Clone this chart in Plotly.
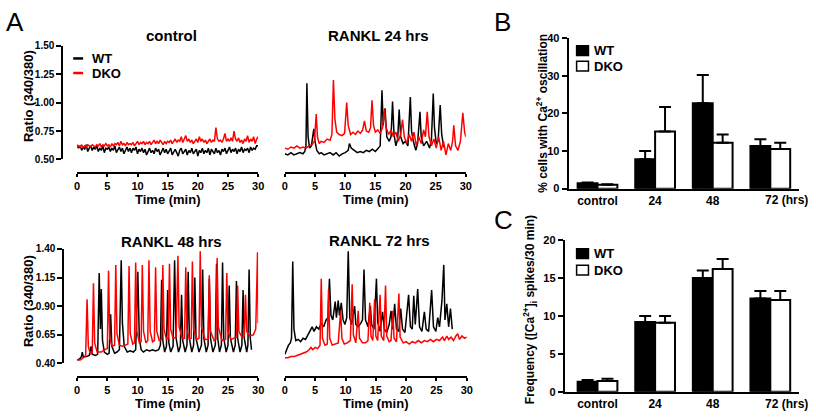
import plotly.graph_objects as go

# ---------------- DATA ----------------
# Panel A - control (sampled every 0.25 min)
ctrl_wt = [0.63, 0.60, 0.62, 0.58, 0.61, 0.59, 0.63, 0.57, 0.60, 0.62, 0.58, 0.61,
           0.59, 0.62, 0.57, 0.60, 0.58, 0.62, 0.56, 0.60, 0.59, 0.61, 0.57, 0.60,
           0.58, 0.62, 0.56, 0.59, 0.61, 0.57, 0.60, 0.55, 0.59, 0.61, 0.57, 0.60,
           0.56, 0.60, 0.58, 0.61, 0.55, 0.59, 0.57, 0.60, 0.56, 0.59, 0.54, 0.58,
           0.60, 0.56, 0.58, 0.55, 0.60, 0.57, 0.59, 0.54, 0.58, 0.60, 0.56, 0.59,
           0.55, 0.58, 0.60, 0.54, 0.57, 0.59, 0.56, 0.53, 0.58, 0.60, 0.55, 0.57,
           0.59, 0.54, 0.58, 0.56, 0.60, 0.55, 0.57, 0.59, 0.53, 0.58, 0.56, 0.60,
           0.55, 0.58, 0.56, 0.60, 0.54, 0.59, 0.57, 0.55, 0.60, 0.56, 0.58, 0.54,
           0.59, 0.57, 0.60, 0.55, 0.58, 0.61, 0.56, 0.59, 0.57, 0.60, 0.55, 0.59,
           0.57, 0.61, 0.56, 0.59, 0.58, 0.60, 0.56, 0.61, 0.58, 0.60, 0.59, 0.62,
           0.62]
ctrl_dko = [0.60, 0.62, 0.61, 0.63, 0.60, 0.62, 0.61, 0.63, 0.62, 0.61, 0.63, 0.62,
            0.61, 0.63, 0.62, 0.64, 0.61, 0.63, 0.62, 0.64, 0.62, 0.63, 0.61, 0.64,
            0.62, 0.64, 0.63, 0.65, 0.62, 0.66, 0.63, 0.64, 0.62, 0.65, 0.63, 0.64,
            0.63, 0.65, 0.62, 0.64, 0.66, 0.63, 0.65, 0.64, 0.66, 0.63, 0.65, 0.64,
            0.66, 0.63, 0.65, 0.67, 0.64, 0.66, 0.64, 0.67, 0.65, 0.63, 0.66, 0.64,
            0.66, 0.65, 0.67, 0.64, 0.66, 0.68, 0.65, 0.67, 0.66, 0.70, 0.65, 0.68,
            0.71, 0.66, 0.68, 0.65, 0.67, 0.64, 0.66, 0.68, 0.65, 0.70, 0.66, 0.68,
            0.65, 0.67, 0.64, 0.66, 0.68, 0.65, 0.67, 0.66, 0.78, 0.68, 0.66, 0.67,
            0.65, 0.68, 0.73, 0.66, 0.68, 0.66, 0.69, 0.66, 0.75, 0.68, 0.66, 0.69,
            0.65, 0.67, 0.64, 0.68, 0.66, 0.71, 0.65, 0.68, 0.66, 0.70, 0.64, 0.68,
            0.70]
ctrl_t = [i * 0.25 for i in range(len(ctrl_wt))]

# Panel A - RANKL 24 hrs (time min, ratio)
r24_wt_pts = [(0, 0.55), (0.5, 0.54), (1, 0.56), (1.5, 0.54), (2, 0.55), (2.5, 0.56), (3, 0.55),
              (3.3, 0.57), (3.5, 0.62), (3.65, 1.17), (3.85, 0.70), (4.1, 0.60), (4.4, 0.62),
              (4.8, 0.77), (5.0, 0.66), (5.3, 0.58), (5.7, 0.55), (6, 0.56), (6.5, 0.54), (7, 0.55),
              (7.5, 0.56), (8, 0.54), (8.5, 0.56), (9, 0.53), (9.5, 0.55), (10, 0.56), (10.5, 0.58),
              (10.7, 0.64), (11, 0.60), (11.5, 0.58), (12, 0.56), (12.5, 0.57), (13, 0.56),
              (13.5, 0.58), (14, 0.57), (14.5, 0.59), (15, 0.57), (15.5, 0.60), (15.8, 0.62),
              (16.1, 1.11), (16.3, 0.80), (16.6, 0.95), (16.9, 0.70), (17.3, 0.66), (17.6, 0.70),
              (17.85, 1.01), (18.1, 0.72), (18.4, 0.62), (18.7, 0.68), (18.95, 0.94), (19.2, 0.70),
              (19.6, 0.64), (20, 0.66), (20.4, 0.62), (20.8, 1.05), (21.0, 0.75), (21.3, 0.66),
              (21.7, 0.58), (22.0, 0.64), (22.4, 0.92), (22.6, 0.70), (23, 0.62), (23.5, 0.66),
              (24, 0.60), (24.3, 0.68), (24.6, 1.08), (24.8, 0.78), (25.1, 0.64), (25.4, 0.66),
              (25.75, 0.98), (26, 0.72), (26.3, 0.62), (26.5, 0.60)]
r24_dko_pts = [(0, 0.60), (0.5, 0.59), (1, 0.61), (1.5, 0.60), (2, 0.62), (2.5, 0.60), (3, 0.61),
               (3.5, 0.60), (4, 0.62), (4.5, 0.63), (4.9, 0.66), (5.2, 0.90), (5.4, 0.70), (5.7, 0.64),
               (6, 0.66), (6.5, 0.65), (7, 0.68), (7.5, 0.67), (7.8, 0.72), (8.05, 1.20), (8.3, 0.85),
               (8.6, 0.74), (9, 0.72), (9.5, 0.71), (9.9, 0.73), (10.25, 1.00), (10.5, 0.80),
               (10.9, 0.72), (11.3, 0.74), (11.7, 0.72), (12.1, 0.75), (12.5, 0.73), (12.9, 0.76),
               (13.2, 0.84), (13.5, 0.75), (13.9, 0.74), (14.2, 0.78), (14.45, 1.02), (14.7, 0.80),
               (15, 0.74), (15.4, 0.76), (15.8, 0.73), (16.2, 0.78), (16.5, 0.94), (16.8, 0.78),
               (17.2, 0.72), (17.6, 0.76), (18.0, 0.70), (18.4, 0.74), (18.8, 0.66), (19.2, 0.72),
               (19.5, 0.85), (19.8, 0.70), (20.2, 0.64), (20.6, 0.72), (21, 0.66), (21.4, 0.74),
               (21.8, 0.62), (22.2, 0.70), (22.6, 0.64), (23.0, 0.76), (23.3, 0.70), (23.6, 0.92),
               (23.9, 0.70), (24.3, 0.62), (24.7, 0.68), (25.1, 0.60), (25.5, 0.70), (25.9, 0.58),
               (26.3, 0.66), (26.7, 0.54), (27.1, 0.64), (27.5, 0.58), (27.8, 0.66), (28.0, 0.80),
               (28.3, 0.62), (28.7, 0.58), (29.1, 0.66), (29.5, 0.91), (29.8, 0.74), (30, 0.70)]

# Panel A - RANKL 48 hrs
r48_wt_pts = [(0, 0.43), (0.4, 0.44), (0.7, 0.46), (0.85, 0.50), (1.0, 0.46), (1.5, 0.46), (2.0, 0.47),
              (2.3, 0.55), (2.5, 0.48), (3.0, 0.47), (3.4, 0.48), (3.65, 1.19), (3.85, 0.70),
              (4.0, 1.05), (4.2, 0.60), (4.5, 0.50), (5.0, 0.48), (5.3, 0.49), (5.55, 0.83),
              (5.75, 0.55), (6.2, 0.49), (6.6, 0.50), (7.0, 0.52), (7.3, 1.30), (7.5, 0.75),
              (7.8, 0.55), (8.3, 0.50), (8.8, 0.51), (9.3, 0.50), (9.7, 0.52), (10.05, 1.20),
              (10.3, 0.62), (10.6, 0.52), (11, 0.50), (11.5, 0.52), (12, 0.51), (12.5, 0.52),
              (13, 0.51), (13.5, 0.52), (13.8, 0.56), (14.0, 1.13), (14.2, 0.60), (14.5, 0.50),
              (14.8, 0.55), (15.0, 1.04), (15.2, 0.58), (15.5, 0.50), (15.9, 0.55), (16.15, 1.30),
              (16.4, 0.62), (16.8, 0.50), (17.1, 0.55), (17.3, 1.00), (17.5, 0.60), (17.9, 0.50),
              (18.2, 0.56), (18.4, 1.20), (18.6, 0.62), (19.0, 0.50), (19.3, 0.56), (19.5, 1.15),
              (19.7, 0.62), (20.2, 0.50), (20.6, 0.56), (20.8, 1.22), (21.0, 0.62), (21.4, 0.50),
              (21.7, 0.56), (21.9, 1.14), (22.1, 0.62), (22.5, 0.50), (22.9, 0.56), (23.1, 1.27),
              (23.3, 0.62), (23.6, 0.50), (23.9, 0.56), (24.1, 1.28), (24.3, 0.62), (24.7, 0.50),
              (25.0, 0.56), (25.2, 1.08), (25.4, 0.62), (25.9, 0.50), (26.2, 0.56), (26.4, 1.12),
              (26.6, 0.62), (27.0, 0.50), (27.3, 0.56), (27.5, 1.04), (27.7, 0.62), (28.1, 0.50),
              (28.3, 0.56), (28.5, 1.22), (28.7, 0.62), (28.9, 0.52)]
r48_dko_pts = [(0, 0.43), (0.5, 0.43), (1.0, 0.45), (1.4, 0.46), (1.64, 0.96), (1.85, 0.55), (2.2, 0.48),
               (2.5, 0.50), (2.7, 1.10), (2.9, 0.58), (3.3, 0.50), (4.0, 0.50), (4.5, 0.52), (5.0, 0.53),
               (5.2, 1.21), (5.4, 0.62), (5.8, 0.55), (6.2, 0.56), (6.4, 1.26), (6.6, 0.66), (7.0, 0.56),
               (7.5, 0.55), (8.0, 0.56), (8.4, 0.57), (8.6, 1.25), (8.8, 0.66), (9.2, 0.57), (9.5, 0.58),
               (9.7, 1.28), (9.9, 0.68), (10.3, 0.58), (10.6, 0.59), (10.8, 1.26), (11.0, 0.68),
               (11.4, 0.58), (11.7, 0.60), (11.9, 1.30), (12.1, 0.68), (12.5, 0.59), (12.8, 0.60),
               (13.0, 1.24), (13.2, 0.68), (13.6, 0.60), (14.0, 0.61), (14.2, 1.26), (14.4, 0.70),
               (14.8, 0.61), (15.1, 0.62), (15.3, 1.27), (15.5, 0.70), (15.9, 0.62), (16.4, 0.63),
               (16.7, 1.34), (16.9, 0.72), (17.4, 0.62), (17.8, 0.62), (18.0, 1.24), (18.2, 0.70),
               (18.6, 0.61), (18.9, 0.62), (19.1, 1.29), (19.3, 0.70), (19.8, 0.61), (20.2, 0.62),
               (20.4, 1.38), (20.6, 0.72), (21.2, 0.61), (21.7, 0.61), (21.9, 1.17), (22.1, 0.68),
               (22.7, 0.60), (23.0, 0.61), (23.2, 1.32), (23.4, 0.72), (24.0, 0.60), (24.6, 0.61),
               (24.8, 1.19), (25.0, 0.68), (25.5, 0.61), (26.0, 0.62), (26.4, 0.63), (26.6, 1.08),
               (26.8, 0.68), (27.3, 0.63), (27.7, 0.64), (27.9, 1.00), (28.1, 0.68), (28.6, 0.64),
               (29.2, 0.65), (29.6, 0.70), (29.9, 1.37), (30.0, 0.75)]

# Panel A - RANKL 72 hrs
r72_wt_pts = [(0, 0.48), (0.3, 0.52), (0.6, 0.56), (0.9, 0.58), (1.1, 0.62), (1.3, 1.29), (1.5, 0.70),
              (1.8, 0.60), (2.2, 0.61), (2.6, 0.59), (3.0, 0.62), (3.4, 0.61), (3.8, 0.65), (4.2, 0.70),
              (4.5, 0.72), (4.8, 0.68), (5.2, 0.72), (5.6, 0.70), (6.0, 0.75), (6.4, 0.72), (6.8, 0.78),
              (7.1, 0.80), (7.35, 1.14), (7.6, 0.82), (7.9, 0.78), (8.3, 0.94), (8.5, 0.80), (8.8, 0.95),
              (9.0, 0.82), (9.3, 0.93), (9.6, 0.78), (9.9, 0.74), (10.2, 0.80), (10.45, 1.38),
              (10.7, 0.80), (11.0, 0.74), (11.5, 0.90), (11.7, 0.74), (12.1, 0.72), (12.5, 0.75),
              (12.8, 0.78), (13.05, 1.22), (13.3, 0.78), (13.7, 0.72), (14.1, 0.90), (14.3, 0.74),
              (14.7, 0.70), (15.1, 1.14), (15.3, 0.76), (15.7, 0.68), (16.1, 0.85), (16.4, 0.70),
              (16.8, 0.67), (17.2, 0.74), (17.5, 0.86), (17.8, 0.70), (18.1, 0.92), (18.4, 0.70),
              (18.8, 0.68), (19.1, 0.88), (19.4, 0.70), (19.8, 0.67), (20.4, 1.00), (20.7, 0.72),
              (21.0, 0.70), (21.25, 0.99), (21.5, 0.74), (21.9, 1.05), (22.2, 0.72), (22.6, 0.68),
              (23.0, 0.85), (23.3, 0.70), (23.7, 0.68), (24.2, 1.04), (24.5, 0.72), (24.9, 0.68),
              (25.2, 0.80), (25.5, 0.72), (25.9, 0.95), (26.2, 1.26), (26.4, 0.78), (26.7, 0.92),
              (27.0, 0.72), (27.3, 0.88), (27.6, 0.70)]
r72_dko_pts = [(0, 0.45), (0.5, 0.45), (1, 0.46), (1.5, 0.46), (2, 0.47), (2.5, 0.48), (3, 0.49),
               (3.5, 0.50), (4, 0.52), (4.3, 0.54), (4.6, 0.52), (5.0, 0.54), (5.4, 0.53), (5.8, 0.56),
               (6.0, 1.14), (6.2, 0.62), (6.6, 0.56), (7.0, 0.57), (7.2, 1.05), (7.4, 0.62), (7.8, 0.56),
               (8.3, 0.57), (8.8, 0.58), (9.2, 0.86), (9.4, 0.62), (9.8, 0.57), (10.3, 0.58), (10.8, 0.60),
               (11.1, 1.09), (11.3, 0.65), (11.7, 0.58), (12.1, 0.86), (12.3, 0.62), (12.8, 0.58),
               (13.3, 0.58), (13.7, 0.60), (14.0, 0.93), (14.2, 0.64), (14.5, 0.60), (14.8, 0.96),
               (15.0, 0.64), (15.3, 0.60), (15.7, 1.00), (15.9, 0.64), (16.3, 0.60), (16.6, 1.08),
               (16.8, 0.64), (17.2, 0.59), (17.5, 0.60), (17.8, 0.86), (18.0, 0.62), (18.4, 0.59),
               (18.8, 1.01), (19.0, 0.63), (19.5, 0.58), (20.0, 0.59), (20.5, 0.57), (21.0, 0.59),
               (21.5, 0.58), (22.0, 0.60), (22.5, 0.58), (23.0, 0.60), (23.5, 0.59), (24.0, 0.61),
               (24.5, 0.59), (25.0, 0.61), (25.5, 0.60), (26.0, 0.63), (26.3, 0.60), (26.7, 0.64),
               (27.0, 0.61), (27.4, 0.63), (27.8, 0.60), (28.2, 0.64), (28.5, 0.66), (28.8, 0.61),
               (29.2, 0.64), (29.6, 0.62), (30.0, 0.63)]

time_ticks = [0, 5, 10, 15, 20, 25, 30]
ratio_ticks_top = [0.50, 0.75, 1.00, 1.25, 1.50]
ratio_ticks_bottom = [0.40, 0.65, 0.90, 1.15, 1.40]

# Panels B and C
categories = ["control", "24", "48", "72"]
pct_wt = [1.4, 7.8, 22.7, 11.3]
pct_wt_err = [0.2, 2.2, 7.5, 1.8]
pct_dko = [1.0, 15.2, 12.2, 10.5]
pct_dko_err = [0.15, 6.5, 2.2, 1.7]
freq_wt = [1.3, 9.2, 15.0, 12.3]
freq_wt_err = [0.25, 0.8, 1.0, 1.0]
freq_dko = [1.4, 9.1, 16.2, 12.1]
freq_dko_err = [0.3, 0.9, 1.3, 1.2]

# ---------------- FIGURE ----------------
W, H = 816, 420
FONT = "Liberation Sans, Arial, sans-serif"


def px(x):
    return x / W


def py(y):
    return 1 - y / H


fig = go.Figure()


def add_line(pts_t, pts_v, color, xa, ya):
    fig.add_trace(go.Scatter(x=list(pts_t), y=list(pts_v), mode="lines",
                             line=dict(color=color, width=1.5),
                             xaxis=xa, yaxis=ya, showlegend=False, hoverinfo="skip"))


def unzip(pts):
    return [p[0] for p in pts], [p[1] for p in pts]


add_line(ctrl_t, ctrl_wt, "black", "x", "y")
add_line(ctrl_t, ctrl_dko, "#ff0000", "x", "y")
add_line(*unzip(r24_wt_pts), "black", "x2", "y2")
add_line(*unzip(r24_dko_pts), "#ff0000", "x2", "y2")
add_line(*unzip(r48_wt_pts), "black", "x3", "y3")
add_line(*unzip(r48_dko_pts), "#ff0000", "x3", "y3")
add_line(*unzip(r72_wt_pts), "black", "x4", "y4")
add_line(*unzip(r72_dko_pts), "#ff0000", "x4", "y4")

cat_pos = list(range(len(categories)))


def add_bars(vals, errs, fill, xa, ya, grp):
    fig.add_trace(go.Bar(x=cat_pos, y=vals, xaxis=xa, yaxis=ya, offsetgroup=grp,
                         marker=dict(color=fill, line=dict(color="black", width=2)),
                         error_y=dict(type="data", array=errs, arrayminus=[0] * len(errs),
                                      symmetric=False, color="black", thickness=2, width=6),
                         showlegend=False, hoverinfo="skip"))


add_bars(pct_wt, pct_wt_err, "black", "x5", "y5", "wt")
add_bars(pct_dko, pct_dko_err, "white", "x5", "y5", "dko")
add_bars(freq_wt, freq_wt_err, "black", "x6", "y6", "wt")
add_bars(freq_dko, freq_dko_err, "white", "x6", "y6", "dko")

tickfont = dict(family=FONT, size=11, color="black", weight="bold")
ytickfont = dict(family=FONT, size=10, color="black", weight="bold")
base_ax = dict(showline=True, linecolor="black", linewidth=2, ticks="outside",
               tickcolor="black", tickwidth=2, ticklen=5, tickfont=tickfont,
               showgrid=False, zeroline=False, fixedrange=True)


def time_axis(x0, x1, ypix):
    return dict(base_ax, domain=[px(x0), px(x1)], range=[0, 30], tickvals=time_ticks,
                ticklen=3, anchor="free", position=py(ypix))


def ratio_axis(y0pix, y1pix, rng, ticks, xpix, visible=True, anchor=None):
    d = dict(base_ax, domain=[py(y0pix), py(y1pix)], range=rng, tickvals=ticks,
             tickformat=".2f", visible=visible, tickfont=ytickfont)
    if xpix is not None:
        d.update(anchor="free", position=px(xpix))
    else:
        d.update(anchor=anchor)
    return d


cat_font = dict(family=FONT, size=12, color="black", weight="bold")


def cat_axis(x0, x1, rng):
    return dict(showline=True, linecolor="black", linewidth=2, ticks="",
                tickvals=cat_pos[:3], ticktext=categories[:3],
                tickfont=cat_font, range=rng, domain=[px(x0), px(x1)],
                showgrid=False, zeroline=False, fixedrange=True)


fig.update_layout(
    width=W, height=H, margin=dict(l=0, r=0, t=0, b=0),
    paper_bgcolor="white", plot_bgcolor="white",
    font=dict(family=FONT, color="black"),
    barmode="group", bargap=0.31, bargroupgap=0,
    xaxis=time_axis(75, 258, 172),
    yaxis=ratio_axis(158, 41, [0.5, 1.5], ratio_ticks_top, 60),
    xaxis2=time_axis(285, 468, 172),
    yaxis2=ratio_axis(158, 41, [0.5, 1.5], ratio_ticks_top, None, visible=False, anchor="x2"),
    xaxis3=time_axis(75, 258, 382),
    yaxis3=ratio_axis(368, 250, [0.4, 1.4], ratio_ticks_bottom, 61),
    xaxis4=time_axis(285, 469, 382),
    yaxis4=ratio_axis(368, 250, [0.4, 1.4], ratio_ticks_bottom, None, visible=False, anchor="x4"),
    xaxis5=dict(cat_axis(572, 805, [-0.5, 3.5]), anchor="y5"),
    yaxis5=dict(base_ax, domain=[py(188), py(33)], range=[0, 40], tickvals=[0, 10, 20, 30, 40],
                anchor="x5"),
    xaxis6=dict(cat_axis(568, 805, [-0.569, 3.5]), anchor="y6"),
    yaxis6=dict(base_ax, domain=[py(397), py(241)], range=[0, 20], tickvals=[0, 5, 10, 15, 20],
                anchor="x6"),
)

ann = []


def text(x, y, s, size=13, bold=True, angle=0, xanchor="center"):
    ann.append(dict(x=px(x), y=py(y), xref="paper", yref="paper", text=s, showarrow=False,
                    textangle=angle, xanchor=xanchor, yanchor="middle",
                    font=dict(family=FONT, size=size, color="black",
                              weight="bold" if bold else "normal")))


# panel letters
text(12, 16, "A", size=26, bold=False)
text(505, 16, "B", size=26, bold=False)
text(506, 220, "C", size=26, bold=False)
# trace panel titles
text(170, 30, "control", size=15)
text(380, 30, "RANKL 24 hrs", size=15)
text(170, 242, "RANKL 48 hrs", size=15)
text(381, 241, "RANKL 72 hrs", size=15)
# axis titles
for (x, y) in [(167, 199), (377, 199), (167, 409), (377, 409)]:
    text(x, y, "Time (min)", size=13)
text(26, 93, "Ratio (340/380)", size=13, angle=-90)
text(26, 304, "Ratio (340/380)", size=13, angle=-90)
text(545, 110, "% cells with Ca<sup>2+</sup> oscillation", size=12, angle=-90)
text(533, 313, "Frequency ([Ca<sup>2+</sup>]<sub>i</sub> spikes/30 min)", size=12, angle=-90)
# last category label with its unit
text(768, 200, categories[3] + " (hrs)", size=12, xanchor="left")
text(768, 410, categories[3] + " (hrs)", size=12, xanchor="left")
# legends
text(88, 54, "WT", size=13, xanchor="left")
text(88, 69, "DKO", size=13, xanchor="left")
text(596, 46, "WT", size=13, xanchor="left")
text(596, 62, "DKO", size=13, xanchor="left")
text(596, 255, "WT", size=13, xanchor="left")
text(596, 272, "DKO", size=13, xanchor="left")

shapes = [
    dict(type="line", xref="paper", yref="paper", x0=px(71), x1=px(81), y0=py(54), y1=py(54),
         line=dict(color="black", width=2.5)),
    dict(type="line", xref="paper", yref="paper", x0=px(71), x1=px(81), y0=py(69), y1=py(69),
         line=dict(color="#ff0000", width=2.5)),
    dict(type="rect", xref="paper", yref="paper", x0=px(580), x1=px(592), y0=py(51), y1=py(41),
         fillcolor="black", line=dict(color="black", width=1.5)),
    dict(type="rect", xref="paper", yref="paper", x0=px(580), x1=px(592), y0=py(67), y1=py(57),
         fillcolor="white", line=dict(color="black", width=1.5)),
    dict(type="rect", xref="paper", yref="paper", x0=px(580), x1=px(592), y0=py(260), y1=py(250),
         fillcolor="black", line=dict(color="black", width=1.5)),
    dict(type="rect", xref="paper", yref="paper", x0=px(580), x1=px(592), y0=py(277), y1=py(267),
         fillcolor="white", line=dict(color="black", width=1.5)),
]

fig.update_layout(annotations=ann, shapes=shapes)
# remove the default page margin so the 816x420 figure fills the window exactly
fig.write_html("out.html", config={"displayModeBar": False, "staticPlot": True},
               post_script="document.body.style.margin='0px';")
